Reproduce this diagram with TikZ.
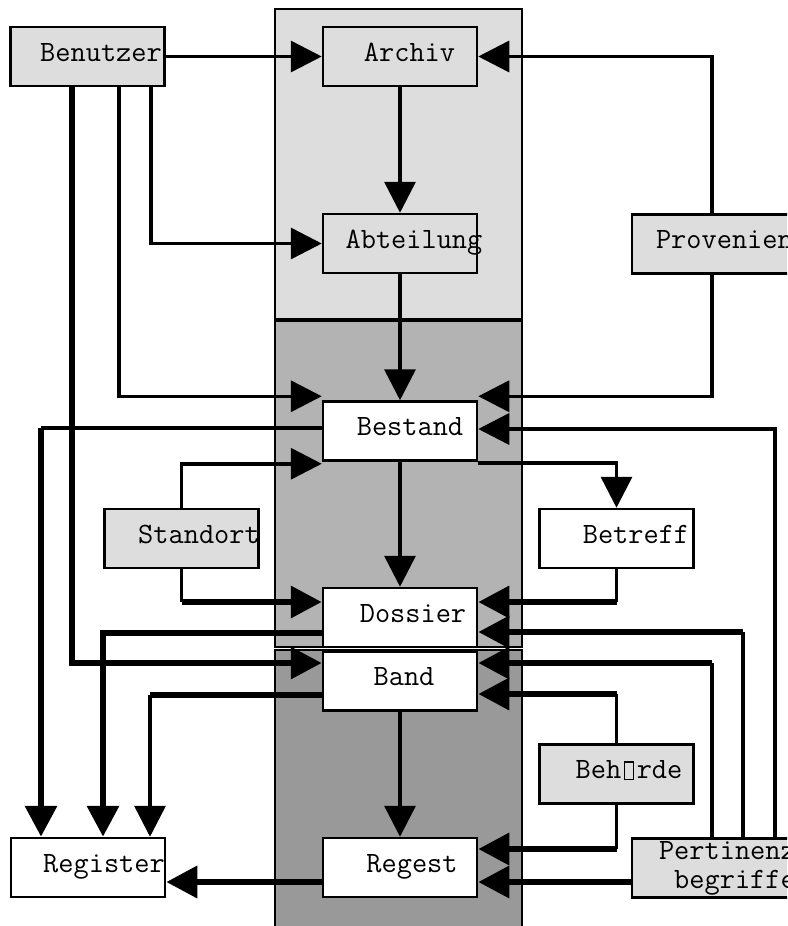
\documentclass[tikz,border=0pt]{standalone}
\usepackage{fontspec}
\usepackage{tikz}
\usetikzlibrary{arrows.meta}
\usepackage{xcolor}
\definecolor{palegrey}{RGB}{221,221,221}
\definecolor{midgrey}{RGB}{179,179,179}
\definecolor{deepgrey}{RGB}{153,153,153}

% empty glyph box, as the source prints it
\newcommand{\nochar}{\makebox[0.525em]{\setlength{\fboxsep}{0pt}\setlength{\fboxrule}{1.3pt}\fbox{\rule{0pt}{16pt}\rule{8pt}{0pt}}}}

\tikzset{
  entity/.style={draw, line width=2.5pt, minimum width=154pt, minimum height=59pt,
    inner sep=0pt, font=\ttfamily\fontsize{29.5}{29}\selectfont,
    text height=16pt, text depth=7pt},
  light/.style={entity, fill=palegrey},
  plain/.style={entity, fill=white},
  push/.style={execute at begin node={\hspace*{#1}}, execute at end node={\hspace*{-#1}}},
  wire/.style={line width=3.5pt},
  fat/.style={line width=6.5pt},
  head/.style={-{Triangle[length=31pt,width=31pt]}},
}

\begin{document}
\begin{tikzpicture}[x=1pt,y=-1pt]
    \useasboundingbox (0,0) rectangle (787,926);
    \clip (0,0) rectangle (787,926);

    % Column shading
    \filldraw[fill=palegrey,line width=2.5pt] (275,9) rectangle (522,319);
    \filldraw[fill=midgrey,line width=2.5pt]  (275,321) rectangle (522,647);
    \filldraw[fill=deepgrey,line width=2.5pt] (275,650) rectangle (522,940);

    % Boxes
    \node[light,push=13.5pt] (benutzer)   at (87.5,56.5)  {Benutzer};
    \node[light,push=9.5pt]  (archiv)     at (400,56.5)   {Archiv};
    \node[light,push=14pt]   (abteilung)  at (400,243.5)  {Abteilung};
    \node[light,minimum width=200pt] (provenienz) at (732,244) {Provenienz};
    \node[plain,push=10pt]   (bestand)    at (400,431)    {Bestand};
    \node[light,push=17.5pt] (standort)   at (181.5,538.5){Standort};
    \node[plain,push=19.5pt] (betreff)    at (616.5,538.5){Betreff};
    \node[plain,push=13pt]   (dossier)    at (400,617.5)  {Dossier};
    \node[plain,push=4pt]    (band)       at (400,681)    {Band};
    \node[light,push=12.5pt] (behoerde)   at (616.5,774)  {Beh\nochar rde};
    \node[plain,push=16pt]   (register)   at (88,867.5)   {Register};
    \node[plain,push=12pt]   (regest)     at (400,867.5)  {Regest};
    \node[light,minimum width=206pt,align=center,text height={},text depth={}]
      (pertinenz) at (735,868) {Pertinenz-\\begriffe};

    % Ports
    \coordinate (bz-a)  at ([xshift=-15.5pt]benutzer.south);
    \coordinate (bz-b)  at ([xshift=31.5pt]benutzer.south);
    \coordinate (bz-c)  at ([xshift=63.5pt]benutzer.south);
    \coordinate (prv-t) at ([xshift=-20pt]provenienz.north);
    \coordinate (prv-b) at ([xshift=-20pt]provenienz.south);
    \coordinate (bst-a) at ([yshift=4pt]bestand.north west);
    \coordinate (bst-b) at ([yshift=3pt]bestand.west);
    \coordinate (bst-c) at ([yshift=-2pt]bestand.south west);
    \coordinate (bst-d) at ([yshift=4pt]bestand.north east);
    \coordinate (bst-e) at ([yshift=2pt]bestand.east);
    \coordinate (bst-f) at ([yshift=-1pt]bestand.south east);
    \coordinate (dos-a) at ([yshift=15.5pt]dossier.west);
    \coordinate (dos-b) at ([yshift=-15.5pt]dossier.west);
    \coordinate (dos-c) at ([yshift=15.5pt]dossier.east);
    \coordinate (dos-d) at ([yshift=-14.5pt]dossier.east);
    \coordinate (bnd-a) at ([yshift=18pt]band.west);
    \coordinate (bnd-b) at ([yshift=-14pt]band.west);
    \coordinate (bnd-c) at ([yshift=18pt]band.east);
    \coordinate (bnd-d) at ([yshift=-13pt]band.east);
    \coordinate (rgs-b) at ([yshift=-14.5pt]regest.west);
    \coordinate (rgs-c) at ([yshift=18.5pt]regest.east);
    \coordinate (rgs-d) at ([yshift=-14.5pt]regest.east);
    \coordinate (reg-a) at ([xshift=-47pt]register.north);
    \coordinate (reg-b) at ([xshift=15pt]register.north);
    \coordinate (reg-c) at ([xshift=62pt]register.north);
    \coordinate (prt-a) at ([xshift=-23pt]pertinenz.north);
    \coordinate (prt-b) at ([xshift=8pt]pertinenz.north);
    \coordinate (prt-c) at ([xshift=40pt]pertinenz.north);

    % Hierarchy down the column
    \draw[wire,head] (archiv) -- (abteilung);
    \draw[wire,head] (abteilung) -- (bestand);
    \draw[wire,head] (bestand) -- (dossier);
    \draw[wire,head] (band) -- (regest);

    % Benutzer
    \draw[wire,head] (benutzer) -- (archiv);
    \draw[wire,head] (bz-c) |- (abteilung.west);
    \draw[wire,head] (bz-b) |- (bst-a);
    \draw[fat,head]  (bz-a) |- (bnd-a);

    % Provenienz
    \draw[wire,head] (prv-t) |- (archiv.east);
    \draw[wire,head] (prv-b) |- (bst-d);

    % Standort and Betreff
    \draw[wire,head] (standort.north) |- (bst-c);
    \draw[wire] (standort.south) -- (standort.south |- dos-a) edge[fat,head] (dos-a);
    \draw[wire,head] (bst-f) -| (betreff.north);
    \draw[wire] (betreff.south) -- (betreff.south |- dos-c) edge[fat,head] (dos-c);

    % Pertinenzbegriffe and Behoerde
    \draw[wire,head] (prt-c) |- (bst-e);
    \draw[wire] (prt-b) -- (prt-b |- dos-d) edge[fat,head] (dos-d);
    \draw[wire] (prt-a) -- (prt-a |- bnd-c) edge[fat,head] (bnd-c);
    \draw[wire] (behoerde.north) -- (behoerde.north |- bnd-d) edge[fat,head] (bnd-d);
    \draw[wire] (behoerde.south) -- (behoerde.south |- rgs-c) edge[fat,head] (rgs-c);
    \draw[fat,head] (rgs-d -| pertinenz.west) -- (rgs-d);

    % Register
    \draw[wire] (bst-b) -- (bst-b -| reg-a) edge[fat,head] (reg-a);
    \draw[fat,head] (dos-b) -| (reg-b);
    \draw[fat] (bnd-b) -- (bnd-b -| reg-c) edge[wire,head] (reg-c);
    \draw[fat,head] (rgs-b) -- (rgs-b -| register.east);
\end{tikzpicture}
\end{document}
